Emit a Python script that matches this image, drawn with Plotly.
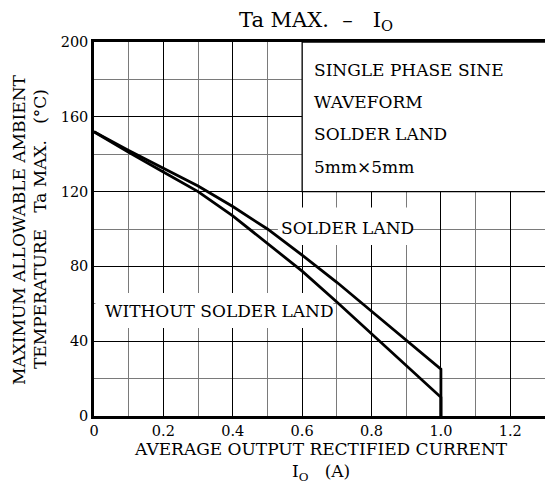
import plotly.graph_objects as go

# ---- data ----
current = [0.0, 0.1, 0.2, 0.3, 0.4, 0.5, 0.6, 0.7, 0.8, 0.9, 1.0, 1.0]
ta_solder_land = [152, 142, 132.5, 123, 112, 100, 86, 71.5, 56, 40.5, 25, 0]
ta_without_land = [152, 141, 130.5, 120, 107, 92.5, 77.5, 61, 44, 27, 10, 0]

x_tick_vals = [0, 0.2, 0.4, 0.6, 0.8, 1.0, 1.2]
x_tick_text = ["0", "0.2", "0.4", "0.6", "0.8", "1.0", "1.2"]
y_tick_vals = [0, 40, 80, 120, 160, 200]
y_tick_text = ["0", "40", "80", "120", "160", "200"]

box_lines = ["SINGLE PHASE SINE", "WAVEFORM", "SOLDER LAND", "5mm\u00d75mm"]
box_line_y = [185, 168, 150.6, 133.3]

FONT = "DejaVu Serif"
W, H = 545, 483
ML, MR, MT, MB = 94, 0, 42, 67

fig = go.Figure()
line_style = dict(color="black", width=2.8)
fig.add_trace(go.Scatter(x=current, y=ta_solder_land, mode="lines",
                         line=line_style, showlegend=False, hoverinfo="skip"))
fig.add_trace(go.Scatter(x=current, y=ta_without_land, mode="lines",
                         line=line_style, showlegend=False, hoverinfo="skip"))

# white masks that interrupt the grid (between grid and traces)
fig.add_shape(type="rect", x0=0.6, x1=1.45, y0=120, y1=200, xref="x", yref="y",
              fillcolor="white", line=dict(color="black", width=1.3), layer="between")
fig.add_shape(type="rect", x0=0.53, x1=0.915, y0=91.5, y1=111.5, xref="x", yref="y",
              fillcolor="white", line=dict(width=0), layer="between")
fig.add_shape(type="rect", x0=0.004, x1=0.69, y0=47, y1=65.8, xref="x", yref="y",
              fillcolor="white", line=dict(width=0), layer="between")

ann_font = dict(family=FONT, size=17, color="black")
for txt, yv in zip(box_lines, box_line_y):
    fig.add_annotation(x=0.628, y=yv, xref="x", yref="y", text=txt, showarrow=False,
                       xanchor="left", yanchor="middle", font=ann_font)

fig.add_annotation(x=0.533, y=100.5, xref="x", yref="y", text="SOLDER LAND",
                   showarrow=False, xanchor="left", yanchor="middle", font=ann_font)
fig.add_annotation(x=0.026, y=56, xref="x", yref="y", text="WITHOUT SOLDER LAND",
                   showarrow=False, xanchor="left", yanchor="middle", font=ann_font)

# title
fig.add_annotation(x=(316 - ML) / (W - ML - MR), y=1, xref="paper", yref="paper",
                   yshift=42 - 21,
                   text="Ta MAX.\u00a0\u00a0\u2013\u00a0\u00a0\u00a0I<sub>O</sub>",
                   showarrow=False, xanchor="center", yanchor="middle",
                   font=dict(family=FONT, size=21, color="black"))

# x-axis title (two lines in one text)
fig.add_annotation(x=(321 - ML) / (W - ML - MR), y=0, xref="paper", yref="paper",
                   yshift=-(461 - 416),
                   text="AVERAGE OUTPUT RECTIFIED CURRENT<br>I<sub>O</sub>\u00a0\u00a0\u00a0(A)",
                   align="center", showarrow=False, xanchor="center", yanchor="middle",
                   font=ann_font)

# y-axis title (two rotated lines)
fig.add_annotation(x=0, y=(416 - 230) / (416 - 42), xref="paper", yref="paper",
                   xshift=19 - ML, text="MAXIMUM ALLOWABLE AMBIENT", textangle=-90,
                   showarrow=False, xanchor="center", yanchor="middle", font=ann_font)
fig.add_annotation(x=0, y=(416 - 229) / (416 - 42), xref="paper", yref="paper",
                   xshift=40 - ML,
                   text="TEMPERATURE\u00a0\u00a0\u00a0Ta MAX.\u00a0\u00a0\u00a0(\u00b0C)",
                   textangle=-90, showarrow=False, xanchor="center", yanchor="middle",
                   font=ann_font)

tick_font = dict(family=FONT, size=14.5, color="black")
fig.update_layout(
    width=W, height=H,
    margin=dict(l=ML, r=MR, t=MT, b=MB, pad=0),
    paper_bgcolor="white", plot_bgcolor="white",
    showlegend=False,
    xaxis=dict(range=[0, 1.3], tickmode="array", tickvals=x_tick_vals, ticktext=x_tick_text,
               showgrid=True, gridcolor="black", gridwidth=1.3,
               minor=dict(tickmode="linear", tick0=0, dtick=0.1, showgrid=True,
                          gridcolor="#7a7a7a", gridwidth=1),
               showline=True, linecolor="black", linewidth=2.5, mirror=True,
               zeroline=False, ticks="", tickfont=tick_font, fixedrange=True),
    yaxis=dict(range=[0, 200], tickmode="array", tickvals=y_tick_vals, ticktext=y_tick_text,
               showgrid=True, gridcolor="black", gridwidth=1.3,
               minor=dict(tickmode="linear", tick0=0, dtick=20, showgrid=True,
                          gridcolor="#7a7a7a", gridwidth=1),
               showline=True, linecolor="black", linewidth=2.5, mirror=False,
               zeroline=False, ticks="", tickfont=tick_font, fixedrange=True),
)

fig.write_html("out.html", config={"displayModeBar": False},
               post_script="document.body.style.margin='0px';document.body.style.overflow='hidden';")
